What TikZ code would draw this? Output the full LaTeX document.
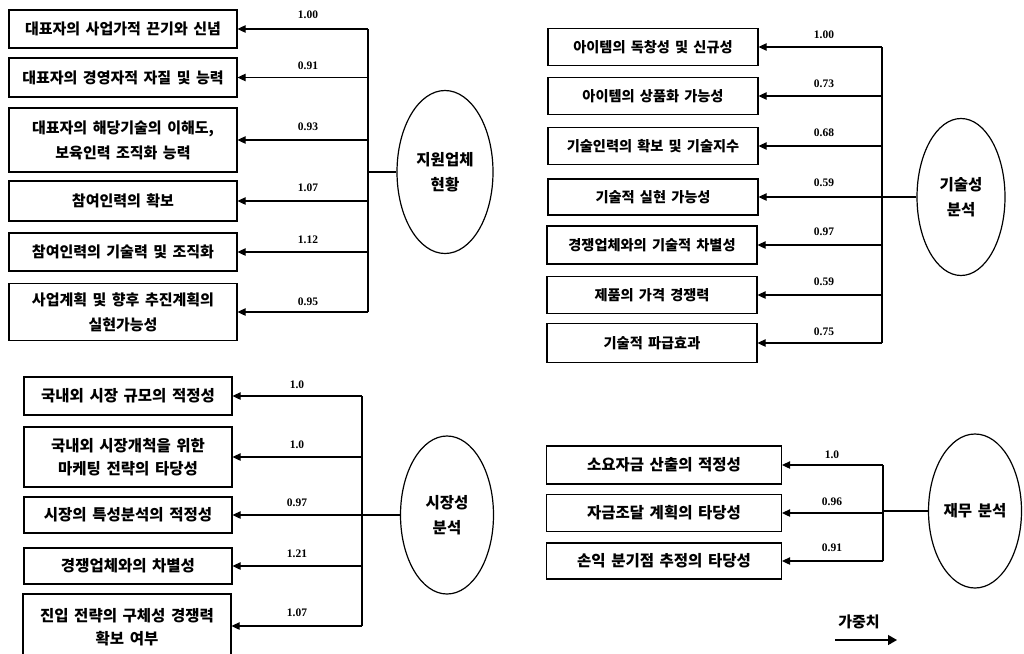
\documentclass[tikz,border=0pt]{standalone}
\usepackage{fontspec}
\setmainfont{Noto Sans CJK KR}[WordSpace=1.6]
\newfontfamily\numfont{Liberation Serif}
\usetikzlibrary{shapes.geometric,arrows.meta}
\begin{document}
\begin{tikzpicture}[x=1pt,y=-1pt,
  box/.style={draw, line width=1.2pt, inner sep=0pt, align=center,
    font=\bfseries\fontsize{15}{25}\selectfont},
  boxA/.style={box, minimum width=228pt},
  boxB/.style={box, minimum width=210pt, font=\bfseries\fontsize{14.2}{24}\selectfont},
  boxC/.style={box, minimum width=208pt, font=\bfseries\fontsize{15.5}{23}\selectfont},
  boxD/.style={box, minimum width=235pt, font=\bfseries\fontsize{15.5}{24}\selectfont},
  oval/.style={draw, ellipse, line width=1.2pt, inner sep=0pt, align=center,
    font=\bfseries\fontsize{15.5}{25}\selectfont},
  arr/.style={line width=1.1pt, -{Triangle[length=8pt,width=7.5pt]}},
  ln/.style={line width=1.1pt},
  wt/.style={inner sep=0pt, font=\numfont\bfseries\fontsize{11.5}{11.5}\selectfont},
]
\useasboundingbox (0,0) rectangle (1024,653);

% ---------- Group A ----------
\node[boxA, minimum height=38pt] (a1) at (123,29) {대표자의 사업가적 끈기와 신념};
\node[boxA, minimum height=39pt] (a2) at (123,77.5) {대표자의 경영자적 자질 및 능력};
\node[boxA, minimum height=64pt] (a3) at (123,140) {대표자의 해당기술의 이해도,\\보육인력 조직화 능력};
\node[boxA, minimum height=40pt] (a4) at (123,201) {참여인력의 확보};
\node[boxA, minimum height=38pt] (a5) at (123,252) {참여인력의 기술력 및 조직화};
\node[boxA, minimum height=57pt] (a6) at (123,312) {사업계획 및 향후 추진계획의\\실현가능성};
\coordinate (vA) at (368,0);
\node[oval, minimum width=96pt, minimum height=163pt] (eA) at (445,172) {지원업체\\현황};
\draw[ln] (vA |- a1.east) -- (vA |- a6.east);
\draw[ln] (eA.west) -- (vA |- eA.west);
\foreach \b in {a1,a2,a3,a4,a5,a6} \draw[arr] (vA |- \b.east) -- (\b.east);
\node[wt] (wa1) at (308,15) {1.00};
\node[wt] (wa2) at (308,66) {0.91};
\node[wt] (wa3) at (308,127) {0.93};
\node[wt] (wa4) at (308,188) {1.07};
\node[wt] (wa5) at (308,240) {1.12};
\node[wt] (wa6) at (308,302) {0.95};

% ---------- Group B ----------
\node[boxB, minimum height=37pt] (b1) at (653,47) {아이템의 독창성 및 신규성};
\node[boxB, minimum height=37pt] (b2) at (653,96) {아이템의 상품화 가능성};
\node[boxB, minimum height=37pt] (b3) at (653,146) {기술인력의 확보 및 기술지수};
\node[boxB, minimum height=36pt] (b4) at (653,197) {기술적 실현 가능성};
\node[boxB, minimum height=38pt] (b5) at (652,245) {경쟁업체와의 기술적 차별성};
\node[boxB, minimum height=37pt] (b6) at (652,295) {제품의 가격 경쟁력};
\node[boxB, minimum height=39pt] (b7) at (652,343) {기술적 파급효과};
\coordinate (vB) at (882,0);
\node[oval, minimum width=88pt, minimum height=157pt] (eB) at (961,197) {기술성\\분석};
\draw[ln] (vB |- b1.east) -- (vB |- b7.east);
\draw[ln] (eB.west) -- (vB |- eB.west);
\foreach \b in {b1,b2,b3,b4,b5,b6,b7} \draw[arr] (vB |- \b.east) -- (\b.east);
\node[wt] (wb1) at (824,35) {1.00};
\node[wt] (wb2) at (824,84) {0.73};
\node[wt] (wb3) at (824,133) {0.68};
\node[wt] (wb4) at (824,183) {0.59};
\node[wt] (wb5) at (824,232) {0.97};
\node[wt] (wb6) at (824,282) {0.59};
\node[wt] (wb7) at (824,332) {0.75};

% ---------- Group C ----------
\node[boxC, minimum height=38pt] (c1) at (128,396) {국내외 시장 규모의 적정성};
\node[boxC, minimum height=60pt] (c2) at (128,457) {국내외 시장개척을 위한\\마케팅 전략의 타당성};
\node[boxC, minimum height=36pt] (c3) at (128,515) {시장의 특성분석의 적정성};
\node[boxC, minimum height=36pt] (c4) at (128,566) {경쟁업체와의 차별성};
\node[boxC, minimum height=64pt, text depth=0pt] (c5) at (127,626) {진입 전략의 구체성 경쟁력\\확보 여부};
\coordinate (vC) at (362,0);
\node[oval, minimum width=93pt, minimum height=158pt] (eC) at (447,515) {시장성\\분석};
\draw[ln] (vC |- c1.east) -- (vC |- c5.east);
\draw[ln] (eC.west) -- (vC |- eC.west);
\foreach \b in {c1,c2,c3,c4,c5} \draw[arr] (vC |- \b.east) -- (\b.east);
\node[wt] (wc1) at (297,385) {1.0};
\node[wt] (wc2) at (297,445) {1.0};
\node[wt] (wc3) at (297,503) {0.97};
\node[wt] (wc4) at (297,554) {1.21};
\node[wt] (wc5) at (297,613) {1.07};

% ---------- Group D ----------
\node[boxD, minimum height=38pt] (d1) at (664,465) {소요자금 산출의 적정성};
\node[boxD, minimum height=37pt] (d2) at (664,513) {자금조달 계획의 타당성};
\node[boxD, minimum height=36pt] (d3) at (664,561) {손익 분기점 추정의 타당성};
\coordinate (vD) at (883,0);
\node[oval, minimum width=93pt, minimum height=154pt] (eD) at (975,511) {재무 분석};
\draw[ln] (vD |- d1.east) -- (vD |- d3.east);
\draw[ln] (eD.west) -- (vD |- eD.west);
\foreach \b in {d1,d2,d3} \draw[arr] (vD |- \b.east) -- (\b.east);
\node[wt] (wd1) at (832,455) {1.0};
\node[wt] (wd2) at (832,502) {0.96};
\node[wt] (wd3) at (832,548) {0.91};

% ---------- Legend ----------
\node[inner sep=0pt, font=\bfseries\fontsize{15}{15}\selectfont] (leg) at (859,622) {가중치};
\coordinate (l0) at (835,640);
\coordinate (l1) at (897,640);
\draw[line width=1.3pt, -{Triangle[length=9pt,width=10pt]}] (l0) -- (l1);
\end{tikzpicture}
\end{document}
